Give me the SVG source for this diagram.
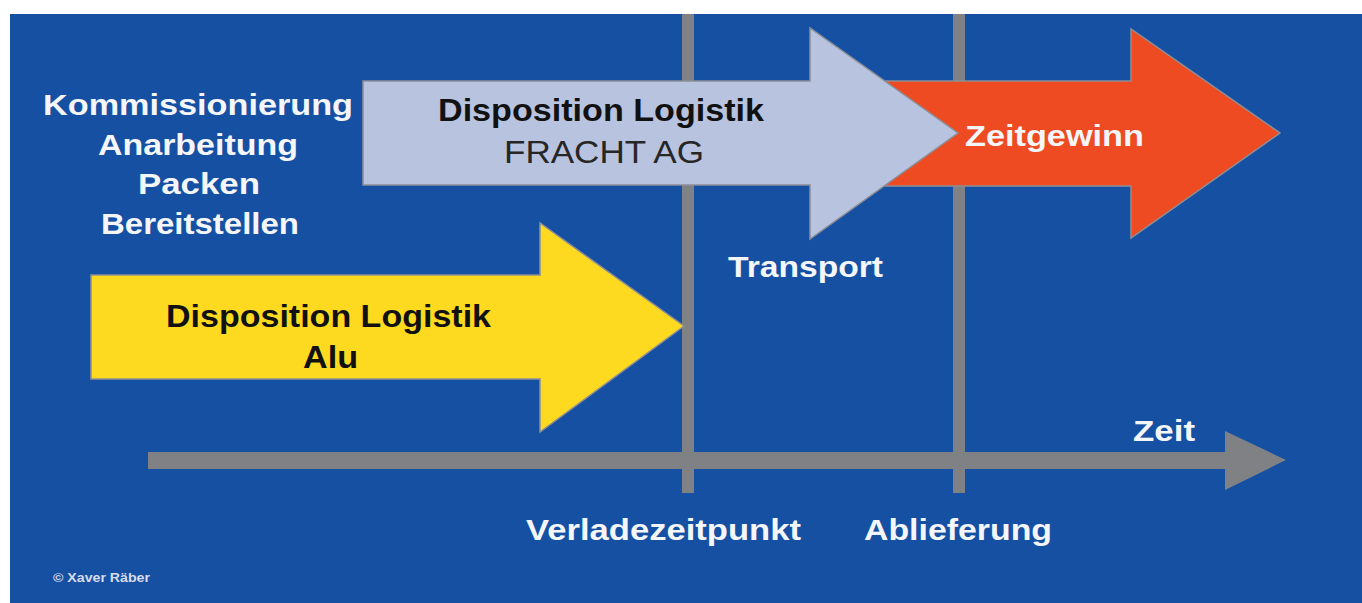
<svg xmlns="http://www.w3.org/2000/svg" width="1362" height="603" viewBox="0 0 1362 603">
  <style>
    .lbl { font-family: "Liberation Sans", Arial, sans-serif; font-weight: bold; font-size: 30px; fill: #f5f6fa; }
    .dark { font-family: "Liberation Sans", Arial, sans-serif; font-weight: bold; font-size: 31px; fill: #111111; }
    .reg { font-family: "Liberation Sans", Arial, sans-serif; font-weight: normal; font-size: 32px; fill: #262626; }
    .tick { fill: #7f8184; }
    .arrow { stroke: #8d8f96; stroke-width: 1.5; stroke-linejoin: miter; }
    .copy { font-family: "Liberation Sans", Arial, sans-serif; font-weight: bold; font-size: 13px; fill: #d8dcea; }
  </style>
  <rect x="0" y="0" width="1362" height="603" fill="#ffffff"/>
  <g id="background">
    <rect x="10" y="14" width="1352" height="589" fill="#1650a3"/>
  </g>
  <g id="connectors">
    <rect class="tick" x="682" y="14" width="12" height="479"/>
    <rect class="tick" x="953" y="14" width="12" height="479"/>
    <polygon class="tick" points="148,452 1225,452 1225,431 1286,460 1225,490 1225,469 148,469"/>
  </g>
  <g id="arrow-zeitgewinn">
    <polygon class="arrow" fill="#ee4b22" points="870,81 1131,81 1131,29 1280,133 1131,238 1131,186 870,186"/>
    <text class="lbl" x="965" y="146" textLength="179" lengthAdjust="spacingAndGlyphs">Zeitgewinn</text>
  </g>
  <g id="arrow-fracht">
    <polygon class="arrow" fill="#b8c3e0" points="363,81 810,81 810,28 958,133 810,239 810,185 363,185"/>
    <text class="dark" x="438" y="121" textLength="326" lengthAdjust="spacingAndGlyphs">Disposition Logistik</text>
    <text class="reg" x="504" y="163" textLength="200" lengthAdjust="spacingAndGlyphs">FRACHT AG</text>
  </g>
  <g id="arrow-alu">
    <polygon class="arrow" fill="#fdd91f" points="91,275 540,275 540,223 684,326 540,432 540,379 91,379"/>
    <text class="dark" x="166" y="327" textLength="325" lengthAdjust="spacingAndGlyphs">Disposition Logistik</text>
    <text class="dark" x="303" y="368" textLength="55" lengthAdjust="spacingAndGlyphs">Alu</text>
  </g>
  <g id="label-steps">
    <text class="lbl" x="43" y="115" textLength="310" lengthAdjust="spacingAndGlyphs">Kommissionierung</text>
    <text class="lbl" x="98" y="155" textLength="200" lengthAdjust="spacingAndGlyphs">Anarbeitung</text>
    <text class="lbl" x="138" y="194" textLength="122" lengthAdjust="spacingAndGlyphs">Packen</text>
    <text class="lbl" x="101" y="234" textLength="198" lengthAdjust="spacingAndGlyphs">Bereitstellen</text>
  </g>
  <g id="label-transport">
    <text class="lbl" x="728" y="277" textLength="155" lengthAdjust="spacingAndGlyphs">Transport</text>
  </g>
  <g id="label-zeit">
    <text class="lbl" x="1133" y="441" textLength="62" lengthAdjust="spacingAndGlyphs">Zeit</text>
  </g>
  <g id="label-verladezeitpunkt">
    <text class="lbl" x="526" y="540" textLength="275" lengthAdjust="spacingAndGlyphs">Verladezeitpunkt</text>
  </g>
  <g id="label-ablieferung">
    <text class="lbl" x="864" y="540" textLength="188" lengthAdjust="spacingAndGlyphs">Ablieferung</text>
  </g>
  <g id="copyright">
    <text class="copy" x="53" y="582" textLength="97" lengthAdjust="spacingAndGlyphs">© Xaver Räber</text>
  </g>
</svg>
